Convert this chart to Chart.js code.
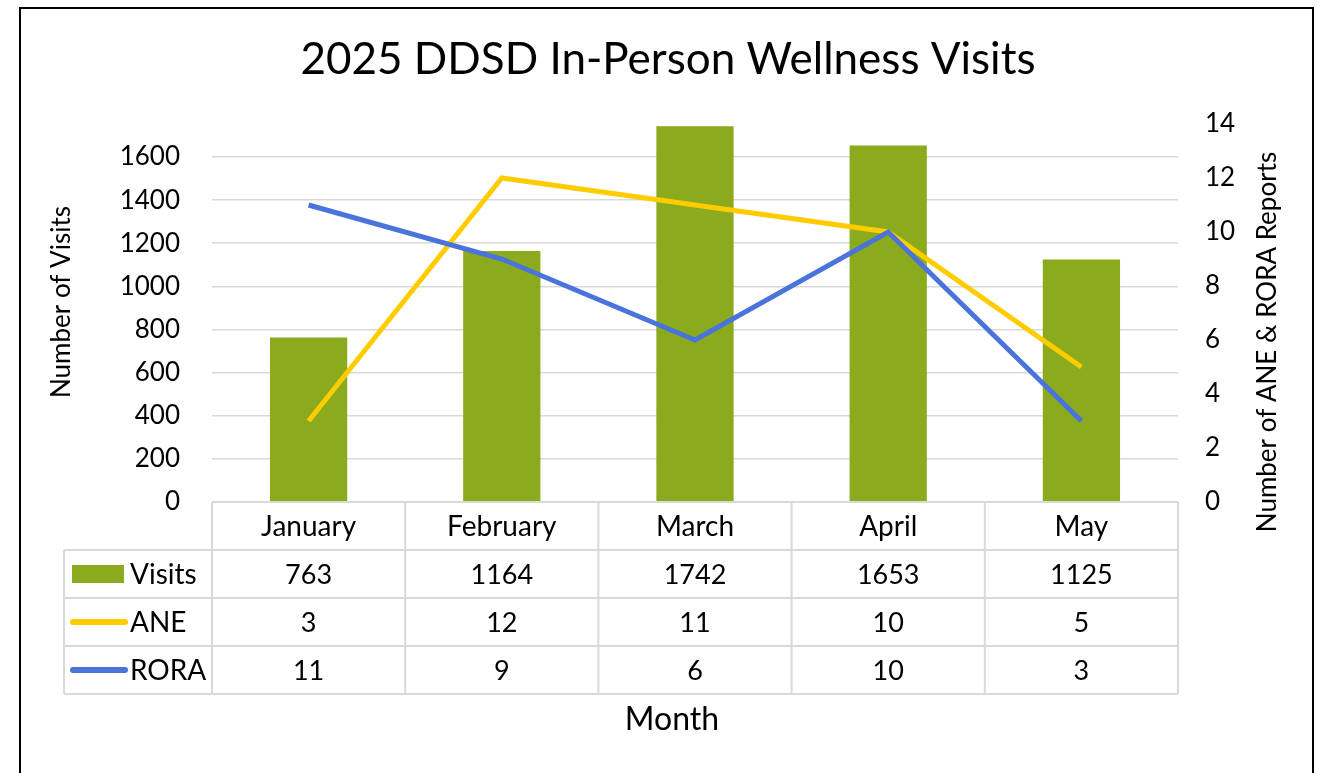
<!DOCTYPE html>
<html>
<head>
<meta charset="utf-8">
<script src="https://cdn.jsdelivr.net/npm/chart.js@4/dist/chart.umd.min.js"></script>
<style>
html,body{margin:0;padding:0;background:#fff;}
canvas{display:block;}
</style>
</head>
<body>
<canvas id="c" width="1317" height="773"></canvas>
<script>
const months = ["January", "February", "March", "April", "May"];
const visits = [763, 1164, 1742, 1653, 1125];
const ane = [3, 12, 11, 10, 5];
const rora = [11, 9, 6, 10, 3];
const leftTickStep = 200;
const leftMax = 1753;
const rightMax = 14;
const rightTickStep = 2;
const chartTitle = "2025 DDSD In-Person Wellness Visits";
const leftAxisTitle = "Number of Visits";
const rightAxisTitle = "Number of ANE & RORA Reports";
const xAxisTitle = "Month";

const GREEN = "#8BAA1D";
const YELLOW = "#FFCC00";
const BLUE = "#4A74DC";
const GRID = "#d9d9d9";
const FONT = "Lato, 'Open Sans', sans-serif";

const seriesRows = [
  {name: "Visits", values: visits, color: GREEN, kind: "bar"},
  {name: "ANE", values: ane, color: YELLOW, kind: "line"},
  {name: "RORA", values: rora, color: BLUE, kind: "line"}
];

const decor = {
  id: "decor",
  beforeDraw(chart) {
    const ctx = chart.ctx;
    ctx.save();
    ctx.fillStyle = "#fff";
    ctx.fillRect(0, 0, chart.width, chart.height);
    ctx.restore();
  },
  afterDraw(chart) {
    const ctx = chart.ctx;
    const a = chart.chartArea;
    ctx.save();
    // outer border
    ctx.strokeStyle = "#000";
    ctx.lineWidth = 2;
    ctx.strokeRect(20, 8, 1293, 800);

    // title
    ctx.fillStyle = "#000";
    ctx.textAlign = "center";
    ctx.textBaseline = "middle";
    ctx.font = "44px " + FONT;
    ctx.fillText(chartTitle, 668, 60);

    // axis titles
    ctx.font = "26px " + FONT;
    ctx.save();
    ctx.translate(62, 302);
    ctx.rotate(-Math.PI / 2);
    ctx.fillText(leftAxisTitle, 0, 0);
    ctx.restore();
    ctx.save();
    ctx.translate(1268, 342);
    ctx.rotate(-Math.PI / 2);
    ctx.fillText(rightAxisTitle, 0, 0);
    ctx.restore();

    ctx.font = "32px " + FONT;
    ctx.fillText(xAxisTitle, 672, 720);

    // data table
    const n = months.length;
    const catW = (a.right - a.left) / n;
    const rowH = 48;
    const top = a.bottom;
    const legendLeft = 64;
    const bottom = top + rowH * (seriesRows.length + 1);
    ctx.strokeStyle = GRID;
    ctx.lineWidth = 2;
    ctx.beginPath();
    ctx.moveTo(a.left, top);
    ctx.lineTo(a.right, top);
    for (let r = 1; r <= seriesRows.length + 1; r++) {
      ctx.moveTo(legendLeft, top + r * rowH);
      ctx.lineTo(a.right, top + r * rowH);
    }
    for (let i = 0; i <= n; i++) {
      const x = a.left + i * catW;
      ctx.moveTo(x, top);
      ctx.lineTo(x, bottom);
    }
    ctx.moveTo(legendLeft, top + rowH);
    ctx.lineTo(legendLeft, bottom);
    ctx.stroke();

    const xs = chart.scales.x;
    ctx.fillStyle = "#000";
    ctx.font = "28px " + FONT;
    ctx.textAlign = "center";
    months.forEach((m, i) => {
      ctx.fillText(m, xs.getPixelForValue(i), top + rowH / 2 + 1);
    });
    ctx.font = "27px " + FONT;
    seriesRows.forEach((s, r) => {
      const cy = top + (r + 1) * rowH + rowH / 2 + 1;
      ctx.fillStyle = "#000";
      ctx.textAlign = "center";
      s.values.forEach((v, i) => {
        ctx.fillText(String(v), xs.getPixelForValue(i), cy);
      });
      // legend key
      if (s.kind === "bar") {
        ctx.fillStyle = s.color;
        ctx.fillRect(72, cy - 10, 52, 18);
      } else {
        ctx.strokeStyle = s.color;
        ctx.lineWidth = 6;
        ctx.lineCap = "round";
        ctx.beginPath();
        ctx.moveTo(73, cy - 1);
        ctx.lineTo(125, cy - 1);
        ctx.stroke();
      }
      ctx.fillStyle = "#000";
      ctx.textAlign = "left";
      ctx.font = "28px " + FONT;
      ctx.fillText(s.name, 130, cy);
      ctx.font = "27px " + FONT;
    });
    ctx.restore();
  }
};

new Chart(document.getElementById("c"), {
  data: {
    labels: months,
    datasets: [
      {type: "line", label: "RORA", data: rora, yAxisID: "y1", borderColor: BLUE, backgroundColor: BLUE,
       borderWidth: 5, pointRadius: 0, tension: 0, borderJoinStyle: "miter", order: 1},
      {type: "line", label: "ANE", data: ane, yAxisID: "y1", borderColor: YELLOW, backgroundColor: YELLOW,
       borderWidth: 5, pointRadius: 0, tension: 0, borderJoinStyle: "miter", order: 2},
      {type: "bar", label: "Visits", data: visits, yAxisID: "y", backgroundColor: GREEN,
       categoryPercentage: 1, barPercentage: 0.4, order: 3}
    ]
  },
  options: {
    responsive: false,
    animation: false,
    layout: {padding: {left: 40, right: 50, top: 124, bottom: 271}},
    plugins: {legend: {display: false}, title: {display: false}, tooltip: {enabled: false}},
    scales: {
      x: {type: "category", display: false, offset: true},
      y: {
        type: "linear", position: "left", min: 0, max: leftMax,
        afterFit(s) { s.width = 172; },
        afterBuildTicks(s) { s.ticks = s.ticks.filter(t => t.value % leftTickStep === 0); },
        ticks: {stepSize: leftTickStep, color: "#000", padding: 32, font: {family: FONT, size: 26},
                callback: v => String(v)},
        grid: {drawTicks: false, lineWidth: 1.5, color: c => c.tick && c.tick.value === 0 ? "rgba(0,0,0,0)" : GRID},
        border: {display: false}
      },
      y1: {
        type: "linear", position: "right", min: 0, max: rightMax,
        afterFit(s) { s.width = 89; },
        ticks: {stepSize: rightTickStep, color: "#000", padding: 27, font: {family: FONT, size: 26},
                callback: v => String(v)},
        grid: {display: false, drawTicks: false},
        border: {display: false}
      }
    }
  },
  plugins: [decor]
});
</script>
</body>
</html>
